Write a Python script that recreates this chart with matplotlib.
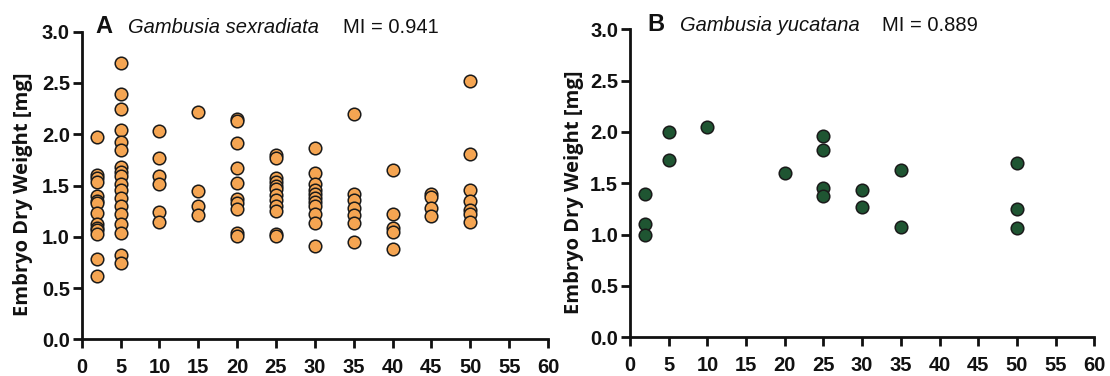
import matplotlib
matplotlib.use("Agg")
import matplotlib.pyplot as plt

# ---- Data ----
# Panel A: Gambusia sexradiata
a_x2 = [1.97, 1.60, 1.57, 1.53, 1.40, 1.35, 1.33, 1.23, 1.12, 1.09, 1.07, 1.03, 0.78, 0.62]
a_x5 = [2.69, 2.39, 2.25, 2.04, 1.92, 1.85, 1.68, 1.63, 1.59, 1.51, 1.46, 1.38, 1.30, 1.22,
        1.12, 1.04, 0.82, 0.74]
a_x10 = [2.03, 1.77, 1.59, 1.51, 1.24, 1.14]
a_x15 = [2.22, 1.45, 1.30, 1.21]
a_x20 = [2.15, 2.13, 1.91, 1.67, 1.52, 1.37, 1.33, 1.27, 1.04, 1.01]
a_x25 = [1.80, 1.77, 1.57, 1.53, 1.50, 1.47, 1.41, 1.36, 1.30, 1.25, 1.03, 1.01]
a_x30 = [1.87, 1.62, 1.51, 1.46, 1.42, 1.38, 1.34, 1.30, 1.22, 1.13, 0.91]
a_x35 = [2.20, 1.42, 1.36, 1.28, 1.21, 1.13, 0.95]
a_x40 = [1.65, 1.22, 1.09, 1.05, 0.88]
a_x45 = [1.42, 1.39, 1.28, 1.20]
a_x50 = [2.52, 1.81, 1.46, 1.35, 1.26, 1.22, 1.14]
a_groups = [2, 5, 10, 15, 20, 25, 30, 35, 40, 45, 50]
a_values = [a_x2, a_x5, a_x10, a_x15, a_x20, a_x25, a_x30, a_x35, a_x40, a_x45, a_x50]

# Panel B: Gambusia yucatana
b_groups = [2, 5, 10, 20, 25, 30, 35, 50]
b_x2 = [1.40, 1.10, 1.00]
b_x5 = [2.00, 1.73]
b_x10 = [2.05]
b_x20 = [1.60]
b_x25 = [1.96, 1.82, 1.45, 1.38]
b_x30 = [1.43, 1.27]
b_x35 = [1.63, 1.07]
b_x50 = [1.70, 1.25, 1.06]
b_values = [b_x2, b_x5, b_x10, b_x20, b_x25, b_x30, b_x35, b_x50]

x_ticks = [0, 5, 10, 15, 20, 25, 30, 35, 40, 45, 50, 55, 60]
y_ticks = [0.0, 0.5, 1.0, 1.5, 2.0, 2.5, 3.0]
y_ticklabels = ["0.0", "0.5", "1.0", "1.5", "2.0", "2.5", "3.0"]
y_label = "Embryo Dry Weight [mg]"

W, H = 1110, 376
fig = plt.figure(figsize=(W / 100, H / 100), dpi=100)

ax_a = fig.add_axes([81.7 / W, 1 - 339.3 / H, 466.3 / W, 307.6 / H])
ax_b = fig.add_axes([630.0 / W, 1 - 337.3 / H, 464.3 / W, 308.0 / H])

tick_font = "Liberation Sans"


def style(ax):
    ax.set_xlim(0, 60)
    ax.set_ylim(0, 3.0)
    for s in ("top", "right"):
        ax.spines[s].set_visible(False)
    for s in ("left", "bottom"):
        ax.spines[s].set_linewidth(2.0)
        ax.spines[s].set_color("#111111")
        ax.spines[s].set_capstyle("projecting")
    ax.set_xticks(x_ticks)
    ax.set_xticklabels([str(t) for t in x_ticks])
    ax.set_yticks(y_ticks)
    ax.set_yticklabels(y_ticklabels)
    ax.tick_params(axis="both", direction="out", length=6.5, width=2.0, color="#111111")
    ax.tick_params(axis="x", pad=7)
    ax.tick_params(axis="y", pad=2)
    for lab in ax.get_xticklabels() + ax.get_yticklabels():
        lab.set_fontfamily(tick_font)
        lab.set_fontweight("bold")
        lab.set_fontsize(14.5)
        lab.set_color("#111111")
    ax.set_ylabel(y_label, fontfamily="Open Sans", fontweight="bold", fontsize=14.5,
                  color="#111111")
    ax.patch.set_alpha(0)


for ax, groups, values, color in ((ax_a, a_groups, a_values, "#F5A552"),
                                  (ax_b, b_groups, b_values, "#1F5532")):
    for g, vals in zip(groups, values):
        ax.scatter([g] * len(vals), vals, s=82, facecolor=color, edgecolor="#1a1a1a",
                   linewidth=1.1, zorder=3, clip_on=False)
    style(ax)

ax_a.yaxis.set_label_coords(-0.104, 0.47)
ax_b.yaxis.set_label_coords(-0.098, 0.47)

# Titles
fig.text(95 / W, 1 - 33 / H, "A", fontfamily="Liberation Sans", fontweight="bold",
         fontsize=17, va="baseline", ha="left", color="#111111")
fig.text(128 / W, 1 - 33 / H, "Gambusia sexradiata", fontfamily="Liberation Sans",
         style="italic", fontsize=14.5, va="baseline", ha="left", color="#111111")
fig.text(343 / W, 1 - 33 / H, "MI = 0.941", fontfamily="Liberation Sans",
         fontsize=14.5, va="baseline", ha="left", color="#111111")

fig.text(647 / W, 1 - 31 / H, "B", fontfamily="Liberation Sans", fontweight="bold",
         fontsize=17, va="baseline", ha="left", color="#111111")
fig.text(680 / W, 1 - 31 / H, "Gambusia yucatana", fontfamily="Liberation Sans",
         style="italic", fontsize=14.5, va="baseline", ha="left", color="#111111")
fig.text(882 / W, 1 - 31 / H, "MI = 0.889", fontfamily="Liberation Sans",
         fontsize=14.5, va="baseline", ha="left", color="#111111")

fig.savefig("out.png", dpi=100)
